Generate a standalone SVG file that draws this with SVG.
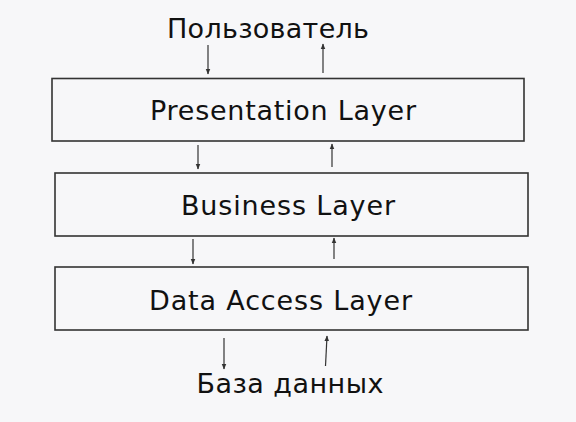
<svg xmlns="http://www.w3.org/2000/svg" width="576" height="422" viewBox="0 0 576 422">
<defs>
<style>
.box{fill:#f7f7f9;stroke:#333;stroke-width:1.6}
.t{font-family:"DejaVu Sans","Verdana",sans-serif;font-size:27px;fill:#111;text-anchor:middle}
.ar{stroke:#333;stroke-width:1.2;fill:none;marker-end:url(#ah)}
</style>
<marker id="ah" viewBox="0 0 10 10" refX="9" refY="5" markerWidth="6" markerHeight="6" markerUnits="userSpaceOnUse" orient="auto">
<path d="M0,1 L10,5 L0,9 z" fill="#333"/>
</marker>
</defs>
<rect width="576" height="422" fill="#f7f7f9"/>
<g id="user"><text class="t" x="268" y="38" textLength="202" lengthAdjust="spacing">Пользователь</text></g>
<g id="presentation"><rect class="box" x="52" y="78.5" width="472" height="62.5"/><text class="t" x="283" y="120" textLength="266" lengthAdjust="spacing">Presentation Layer</text></g>
<g id="business"><rect class="box" x="55" y="173" width="473" height="63"/><text class="t" x="288" y="215" textLength="214" lengthAdjust="spacing">Business Layer</text></g>
<g id="dataaccess"><rect class="box" x="55" y="267" width="473" height="63"/><text class="t" x="280.5" y="310" textLength="263" lengthAdjust="spacing">Data Access Layer</text></g>
<g id="database"><text class="t" x="290" y="393" textLength="187" lengthAdjust="spacing">База данных</text></g>
<g id="connectors">
<line class="ar" x1="208" y1="45" x2="208" y2="74"/>
<line class="ar" x1="323" y1="73" x2="323" y2="44"/>
<line class="ar" x1="198" y1="145" x2="198" y2="169"/>
<line class="ar" x1="332" y1="167" x2="332" y2="144"/>
<line class="ar" x1="193" y1="239" x2="193" y2="264"/>
<line class="ar" x1="334" y1="259" x2="334" y2="238"/>
<line class="ar" x1="224" y1="338" x2="224" y2="369"/>
<line class="ar" x1="325.5" y1="366" x2="327" y2="336"/>
</g>
</svg>
